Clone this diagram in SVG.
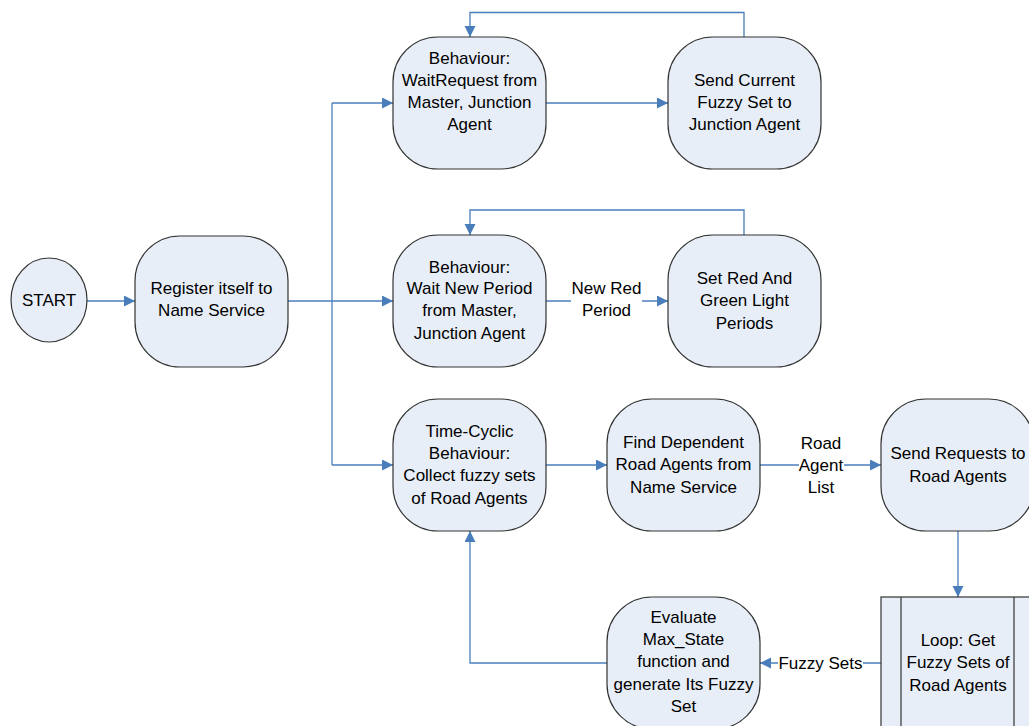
<svg xmlns="http://www.w3.org/2000/svg" width="1029" height="726" viewBox="0 0 1029 726">
  <style>
    .node { fill: #E8EEF7; stroke: #333333; stroke-width: 1.2; }
    .txt { font-family: "Liberation Sans", Arial, sans-serif; font-size: 17px; fill: #000000; text-anchor: middle; }
    .conn { fill: none; stroke: #4A7EBB; stroke-width: 1.3; }
    .arrow { marker-end: url(#head); }
    .lblbg { fill: #FFFFFF; stroke: none; }
  </style>
  <defs>
    <marker id="head" markerUnits="userSpaceOnUse" markerWidth="12" markerHeight="12" refX="11" refY="5.5" orient="auto">
      <path d="M0,0 L11,5.5 L0,11 z" fill="#4A7EBB"/>
    </marker>
  </defs>
  <rect width="1029" height="726" fill="#FFFFFF"/>

  <!-- connectors -->
  <g id="connectors">
    <path class="conn arrow" d="M86,301 H135"/>
    <path class="conn arrow" d="M288,301 H393"/>
    <path class="conn" d="M332,103 V465"/>
    <path class="conn arrow" d="M332,103 H393"/>
    <path class="conn arrow" d="M332,465 H393"/>
    <path class="conn arrow" d="M546,103 H668"/>
    <path class="conn arrow" d="M744,37 V12.5 H470 V37"/>
    <path class="conn arrow" d="M546,301 H668"/>
    <path class="conn arrow" d="M744,235 V210 H470 V235"/>
    <path class="conn arrow" d="M546,465 H607"/>
    <path class="conn arrow" d="M760,465 H881"/>
    <path class="conn arrow" d="M958,531 V597"/>
    <path class="conn arrow" d="M881,663 H760"/>
    <path class="conn arrow" d="M607,663 H470 V531"/>
    <!-- connector labels -->
    <g id="lbl-newred">
      <rect class="lblbg" x="571" y="277" width="71" height="46"/>
      <text class="txt" x="606.5" y="294">New Red</text>
      <text class="txt" x="606.5" y="316">Period</text>
    </g>
    <g id="lbl-roadagentlist">
      <rect class="lblbg" x="799" y="432" width="45" height="66"/>
      <text class="txt" x="821" y="449">Road</text>
      <text class="txt" x="821" y="471">Agent</text>
      <text class="txt" x="821" y="493">List</text>
    </g>
    <g id="lbl-fuzzysets">
      <rect class="lblbg" x="778" y="652" width="85" height="22"/>
      <text class="txt" x="820.5" y="669">Fuzzy Sets</text>
    </g>
  </g>

  <g id="start">
    <ellipse class="node" cx="49" cy="300" rx="38" ry="42"/>
    <text class="txt" x="49" y="306">START</text>
  </g>

  <g id="register">
    <rect class="node" x="135" y="236" width="153" height="131" rx="45" ry="45"/>
    <text class="txt" x="211.5" y="294">Register itself to</text>
    <text class="txt" x="211.5" y="316">Name Service</text>
  </g>

  <g id="wait-request">
    <rect class="node" x="393" y="37" width="153" height="132" rx="45" ry="45"/>
    <text class="txt" x="469.5" y="64">Behaviour:</text>
    <text class="txt" x="469.5" y="86">WaitRequest from</text>
    <text class="txt" x="469.5" y="108">Master, Junction</text>
    <text class="txt" x="469.5" y="130">Agent</text>
  </g>

  <g id="send-current">
    <rect class="node" x="668" y="37" width="153" height="132" rx="45" ry="45"/>
    <text class="txt" x="744.5" y="86">Send Current</text>
    <text class="txt" x="744.5" y="108">Fuzzy Set to</text>
    <text class="txt" x="744.5" y="130">Junction Agent</text>
  </g>

  <g id="wait-period">
    <rect class="node" x="393" y="235" width="153" height="132" rx="45" ry="45"/>
    <text class="txt" x="469.5" y="273">Behaviour:</text>
    <text class="txt" x="469.5" y="294">Wait New Period</text>
    <text class="txt" x="469.5" y="316">from Master,</text>
    <text class="txt" x="469.5" y="339">Junction Agent</text>
  </g>

  <g id="set-periods">
    <rect class="node" x="668" y="235" width="153" height="132" rx="45" ry="45"/>
    <text class="txt" x="744.5" y="284">Set Red And</text>
    <text class="txt" x="744.5" y="306">Green Light</text>
    <text class="txt" x="744.5" y="329">Periods</text>
  </g>

  <g id="time-cyclic">
    <rect class="node" x="393" y="399" width="153" height="132" rx="45" ry="45"/>
    <text class="txt" x="469.5" y="437">Time-Cyclic</text>
    <text class="txt" x="469.5" y="459">Behaviour:</text>
    <text class="txt" x="469.5" y="481">Collect fuzzy sets</text>
    <text class="txt" x="469.5" y="504">of Road Agents</text>
  </g>

  <g id="find-dependent">
    <rect class="node" x="607" y="399" width="153" height="132" rx="45" ry="45"/>
    <text class="txt" x="683.5" y="448">Find Dependent</text>
    <text class="txt" x="683.5" y="470">Road Agents from</text>
    <text class="txt" x="683.5" y="493">Name Service</text>
  </g>

  <g id="send-requests">
    <rect class="node" x="881" y="399" width="153" height="132" rx="45" ry="45"/>
    <text class="txt" x="958" y="459">Send Requests to</text>
    <text class="txt" x="958" y="482">Road Agents</text>
  </g>

  <g id="loop-get">
    <rect class="node" x="881" y="597" width="153" height="140"/>
    <line class="node" x1="901" y1="597" x2="901" y2="737"/>
    <line class="node" x1="1014" y1="597" x2="1014" y2="737"/>
    <text class="txt" x="958" y="646">Loop: Get</text>
    <text class="txt" x="958" y="668">Fuzzy Sets of</text>
    <text class="txt" x="958" y="691">Road Agents</text>
  </g>

  <g id="evaluate">
    <rect class="node" x="607" y="597" width="153" height="132" rx="45" ry="45"/>
    <text class="txt" x="683.5" y="623">Evaluate</text>
    <text class="txt" x="683.5" y="645">Max_State</text>
    <text class="txt" x="683.5" y="667">function and</text>
    <text class="txt" x="683.5" y="690">generate Its Fuzzy</text>
    <text class="txt" x="683.5" y="712">Set</text>
  </g>
</svg>
